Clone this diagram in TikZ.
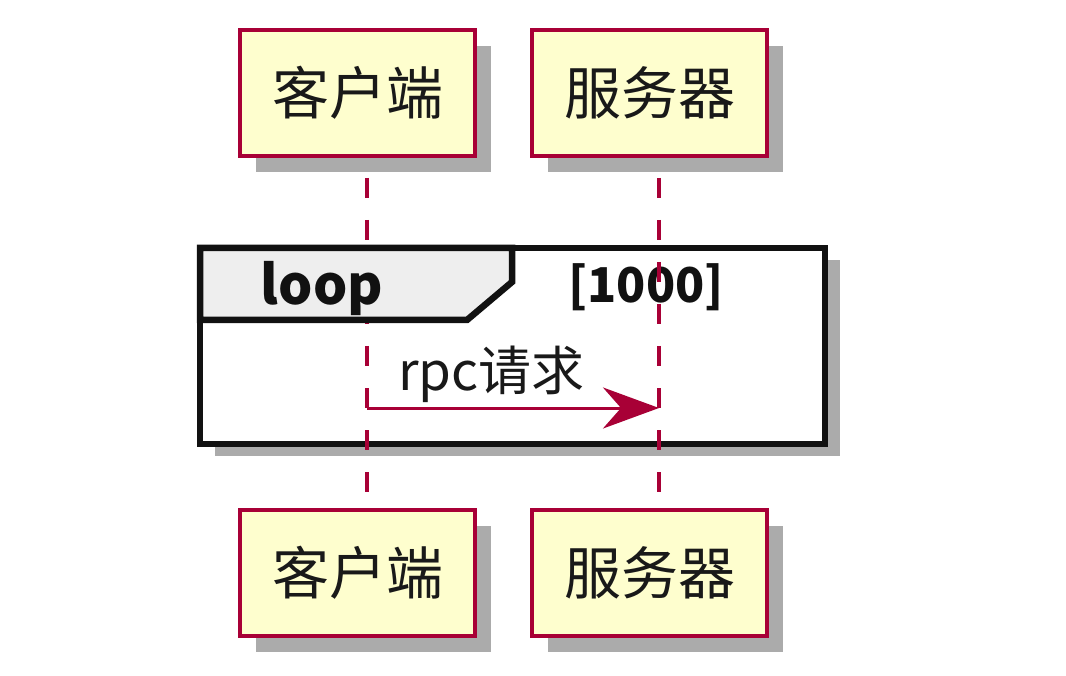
\documentclass[tikz,border=0pt]{standalone}
\usepackage{fontspec}
\setmainfont{Noto Sans CJK SC}
\usetikzlibrary{arrows.meta,calc}
\definecolor{pborder}{HTML}{A80036}
\definecolor{pfill}{HTML}{FEFECE}
\definecolor{shadowgray}{HTML}{ABABAB}
\definecolor{tabfill}{HTML}{EEEEEE}
\definecolor{framecol}{HTML}{111111}
\tikzset{
  part/.style={draw=pborder, fill=pfill, line width=4.5pt, outer sep=0pt, minimum width=235pt, minimum height=126pt, inner sep=0pt, font=\fontsize{57}{60}\selectfont, text=black!90},
  lifeline/.style={draw=pborder, line width=3.5pt, dash pattern=on 20pt off 22pt},
  framebox/.style={draw=framecol, fill=white, line width=6.5pt, outer sep=0pt, minimum width=625pt, minimum height=196pt, inner sep=0pt},
  tabshape/.style={draw=framecol, fill=tabfill, line width=6.5pt, line join=miter},
  msg/.style={draw=pborder, line width=3pt},
  lbl/.style={font=\fontsize{53}{56}\selectfont, inner sep=0pt, text=black!90},
  grouptitle/.style={font=\bfseries\fontsize{54}{56}\selectfont, inner sep=0pt, text=framecol},
  condtitle/.style={font=\bfseries\fontsize{48}{50}\selectfont, inner sep=0pt, text=framecol},
}
\begin{document}
\begin{tikzpicture}[x=1pt,y=-1pt]
\fill[white] (0,0) rectangle (1066,676);
\useasboundingbox (0,0) rectangle (1066,676);
% participants
\node[part] (c1) at (357.5,93) {客户端};
\node[part] (s1) at (649.5,93) {服务器};
\node[part] (c2) at (357.5,573) {客户端};
\node[part] (s2) at (649.5,573) {服务器};
% shadows drawn then boxes redrawn on top
\foreach \n in {c1,s1,c2,s2}{
  \fill[shadowgray] ($(\n.south west)+(16,16)$) rectangle ($(\n.north east)+(16,16)$);
}
\node[part] at (c1) {客户端};
\node[part] at (s1) {服务器};
\node[part] at (c2) {客户端};
\node[part] at (s2) {服务器};
% loop frame
\node[framebox] (loopf) at (512.5,346) {};
\fill[shadowgray] ($(loopf.south west)+(15,12)$) rectangle ($(loopf.north east)+(15,12)$);
\node[framebox] at (loopf) {};
\node[condtitle, anchor=base] (cond) at (646,303) {[1000]};
% lifelines
\coordinate (c1l) at ($(c1.south)+(9.5,22)$);
\coordinate (c2l) at ($(c2.north)+(9.5,-18)$);
\coordinate (s1l) at ($(s1.south)+(9.5,22)$);
\coordinate (s2l) at ($(s2.north)+(9.5,-18)$);
\draw[lifeline] (c1l) -- (c2l);
\draw[lifeline] (s1l) -- (s2l);
% tab
\draw[tabshape] (loopf.north west) -- (512,248) -- (512,282) -- (467,320) -- (loopf.west |- 0,320) -- cycle;
\node[grouptitle, anchor=base] (looptxt) at (322,305) {loop};
% message
\coordinate (ca) at (367,408);
\coordinate (sa) at (659,408);
\draw[msg, -{Stealth[length=56pt, width=41pt, inset=18pt, fill=pborder]}] (ca) -- (sa);
\node[lbl, anchor=base west] (m) at (398,390) {rpc请求};
\end{tikzpicture}
\end{document}
